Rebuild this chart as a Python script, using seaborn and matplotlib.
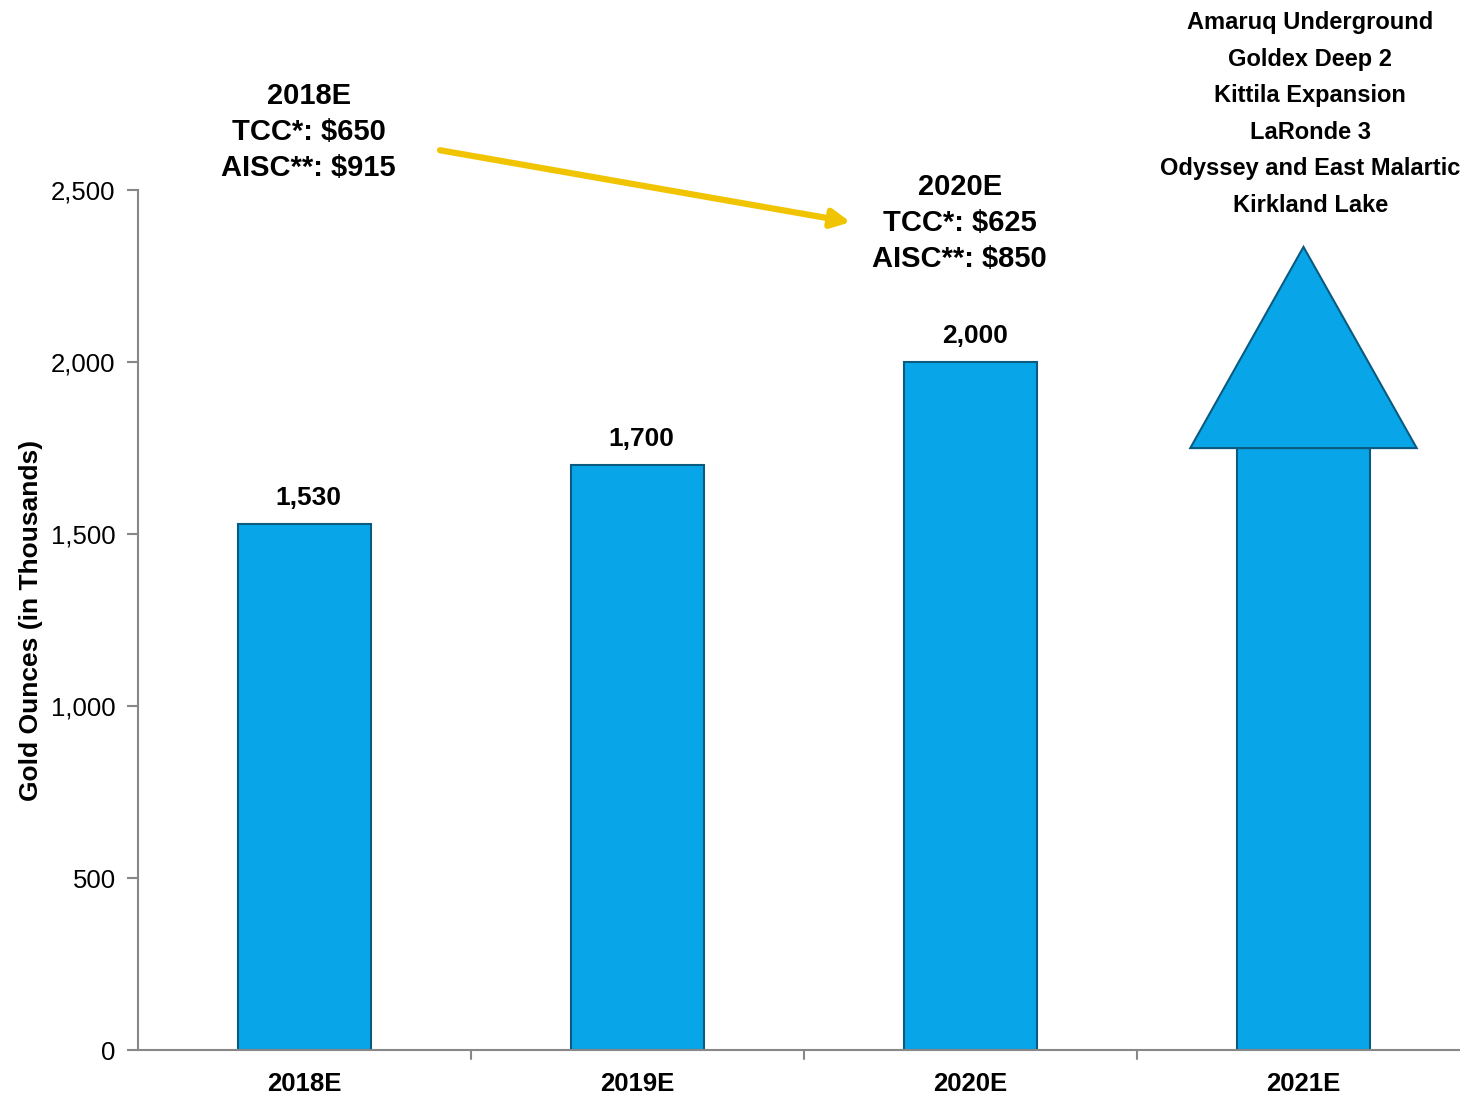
import matplotlib
matplotlib.use("Agg")
import matplotlib.pyplot as plt
from matplotlib.patches import Polygon
import seaborn as sns
import pandas as pd

# data
years = ["2018E", "2019E", "2020E", "2021E"]
ounces = [1530, 1700, 2000, 1750]
shown_labels = ["1,530", "1,700", "2,000", ""]
arrow_top = 2335          # tip of the "growth" arrow on 2021E
arrow_head_width = 0.68   # in category units

cost_2018 = ["2018E", "TCC*: $650", "AISC**: $915"]
cost_2020 = ["2020E", "TCC*: $625", "AISC**: $850"]
projects = ["Amaruq Underground", "Goldex Deep 2", "Kittila Expansion",
            "LaRonde 3", "Odyssey and East Malartic", "Kirkland Lake"]

df = pd.DataFrame({"year": years, "oz": ounces})

sns.set_style("white")
plt.rcParams["font.family"] = ["Liberation Sans", "DejaVu Sans"]
plt.rcParams["text.color"] = "black"
plt.rcParams["axes.labelcolor"] = "black"
plt.rcParams["xtick.color"] = "black"
plt.rcParams["ytick.color"] = "black"

blue = "#08a6e8"
edge = "#0b5a80"

fig = plt.figure(figsize=(14.6, 10.94), dpi=100)
ax = fig.add_axes([0.0945, 0.0402, 0.9055, 0.786])

sns.barplot(data=df, x="year", y="oz", color=blue, width=0.4,
            edgecolor=edge, linewidth=1.5, saturation=1, ax=ax)

# arrow head on the last bar
p = ax.patches[3]
cx = p.get_x() + p.get_width() / 2
base = p.get_height()
head = Polygon([[cx - arrow_head_width / 2, base],
                [cx + arrow_head_width / 2, base],
                [cx, arrow_top]], closed=True,
               facecolor=blue, edgecolor=edge, linewidth=1.5, clip_on=False, zorder=3)
ax.add_patch(head)

# value labels
for bar, lab in zip(ax.patches[:4], shown_labels):
    if lab:
        ax.annotate(lab, (bar.get_x() + bar.get_width() / 2, bar.get_height()),
                    xytext=(3, 10), textcoords="offset points",
                    ha="center", va="bottom", fontsize=19, fontweight="bold")

ax.set_xlim(-0.5, 3.47)
ax.set_ylim(0, 2500)
ax.set_yticks(range(0, 2501, 500))
ax.set_yticklabels([f"{v:,}" for v in range(0, 2501, 500)], fontsize=18.5)
ax.set_xticks(range(4))
ax.set_xticklabels(years, fontsize=18.5, fontweight="bold")
ax.tick_params(axis="x", length=0, pad=16)
ax.tick_params(axis="y", length=8, width=1.5, color="#888888", direction="out", pad=8,
               left=True, labelcolor="black")
ax.set_xlabel("")
ax.set_ylabel("Gold Ounces (in Thousands)", fontsize=19, fontweight="bold", labelpad=6)

# category separators on x axis
for xb in [0.5, 1.5, 2.5]:
    ax.plot([xb, xb], [0, -25], color="#888888", lw=1.5, clip_on=False)

for s in ["top", "right"]:
    ax.spines[s].set_visible(False)
for s in ["left", "bottom"]:
    ax.spines[s].set_color("#888888")
    ax.spines[s].set_linewidth(1.5)

# cost annotations
ax.text(0.013, 2669, "\n".join(cost_2018), ha="center", va="center",
        fontsize=21, fontweight="bold", linespacing=1.35, clip_on=False)
ax.text(1.968, 2404, "\n".join(cost_2020), ha="center", va="center",
        fontsize=21, fontweight="bold", linespacing=1.35, clip_on=False)
ax.annotate("", xy=(1.64, 2407), xytext=(0.407, 2616),
            arrowprops=dict(arrowstyle="-|>,head_length=1.1,head_width=0.55",
                            color="#f0c400", lw=4.5, shrinkA=0, shrinkB=0),
            annotation_clip=False)

ax.text(3.02, 2721, "\n".join(projects), ha="center", va="center",
        fontsize=17, fontweight="bold", linespacing=1.75, clip_on=False)

fig.savefig("out.png", dpi=100)
